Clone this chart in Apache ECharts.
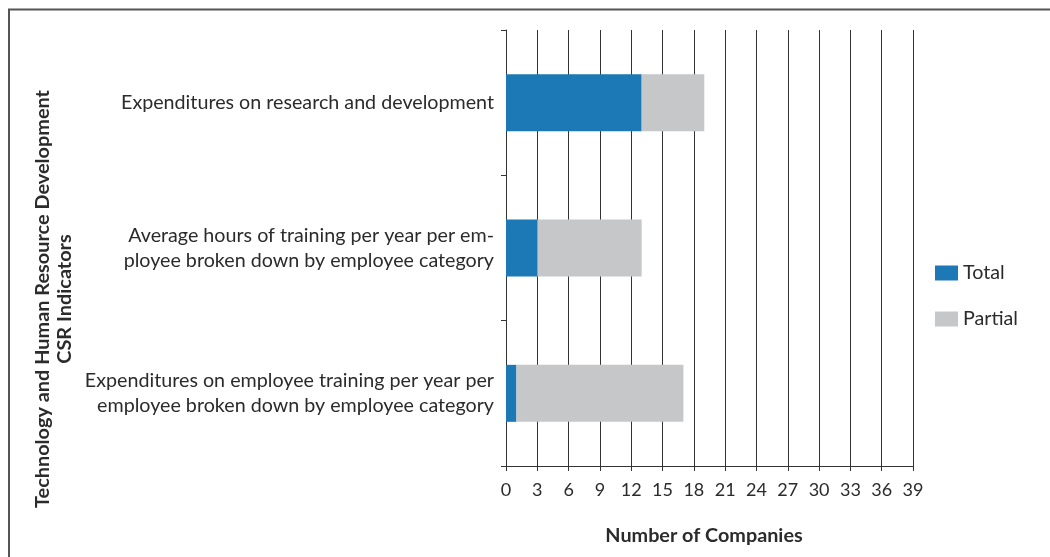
<!DOCTYPE html>
<html>
<head>
<meta charset="utf-8">
<script src="https://cdn.jsdelivr.net/npm/echarts@6/dist/echarts.min.js"></script>
<style>
  html, body { margin: 0; padding: 0; background: #fff; }
  #main { width: 1050px; height: 557px; }
</style>
</head>
<body>
<div id="main"></div>
<script>
// indicators, top to bottom
var categories = [
  'Expenditures on research and development',
  'Average hours of training per year per em-\nployee broken down by employee category',
  'Expenditures on employee training per year per\nemployee broken down by employee category'
]
var totalValues = [13, 3, 1]
var partialValues = [6, 10, 16]
var xTicks = { min: 0, max: 39, interval: 3 }

var font = 'Lato, "Open Sans", sans-serif'
var ink = '#2b2b2b'

var myChart = echarts.init(document.getElementById('main'))
var option = {
  backgroundColor: '#fff',
  animation: false,
  textStyle: { fontFamily: font, color: ink },
  grid: { left: 506, right: 137, top: 30, bottom: 91 },
  legend: {
    orient: 'vertical',
    left: 935,
    top: 263,
    padding: 0,
    itemWidth: 23,
    itemHeight: 15,
    itemGap: 26,
    icon: 'rect',
    textStyle: { fontSize: 19.7, color: ink, fontFamily: font },
    data: ['Total', 'Partial']
  },
  xAxis: {
    type: 'value',
    min: xTicks.min,
    max: xTicks.max,
    interval: xTicks.interval,
    name: 'Number of Companies',
    nameLocation: 'middle',
    nameGap: 60,
    nameTextStyle: { fontSize: 19.8, fontWeight: 'bold', color: ink, fontFamily: font, padding: [0, 11, 0, 0] },
    axisLine: { show: true, lineStyle: { color: '#333', width: 1 } },
    axisTick: { show: true, length: 5, lineStyle: { color: '#333' } },
    axisLabel: { fontSize: 18, color: ink, margin: 15, fontFamily: font },
    splitLine: { show: true, lineStyle: { color: '#333', width: 1 } }
  },
  yAxis: {
    type: 'category',
    inverse: true,
    data: categories,
    axisLine: { show: true, lineStyle: { color: '#333', width: 1 } },
    axisTick: { show: true, length: 5, alignWithLabel: false, lineStyle: { color: '#333' } },
    axisLabel: { fontSize: 19.7, color: ink, margin: 12, align: 'right', lineHeight: 25, fontFamily: font }
  },
  series: [
    {
      name: 'Total',
      type: 'bar',
      stack: 'all',
      barWidth: 57,
      itemStyle: { color: '#1d79b5' },
      data: totalValues
    },
    {
      name: 'Partial',
      type: 'bar',
      stack: 'all',
      barWidth: 57,
      itemStyle: { color: '#c6c7c9' },
      data: partialValues
    }
  ],
  graphic: [
    {
      type: 'polyline',
      silent: true,
      shape: { points: [[9, 557], [9, 9.5], [1050, 9.5]] },
      style: { stroke: '#555', lineWidth: 2, fill: null }
    },
    {
      type: 'text',
      silent: true,
      x: 54,
      y: 299,
      rotation: Math.PI / 2,
      style: {
        text: 'Technology and Human Resource Development\nCSR Indicators',
        fontFamily: font,
        fontSize: 19.9,
        fontWeight: 'bold',
        lineHeight: 22,
        fill: ink,
        align: 'center',
        verticalAlign: 'middle'
      }
    }
  ]
}
myChart.setOption(option)
</script>
</body>
</html>
